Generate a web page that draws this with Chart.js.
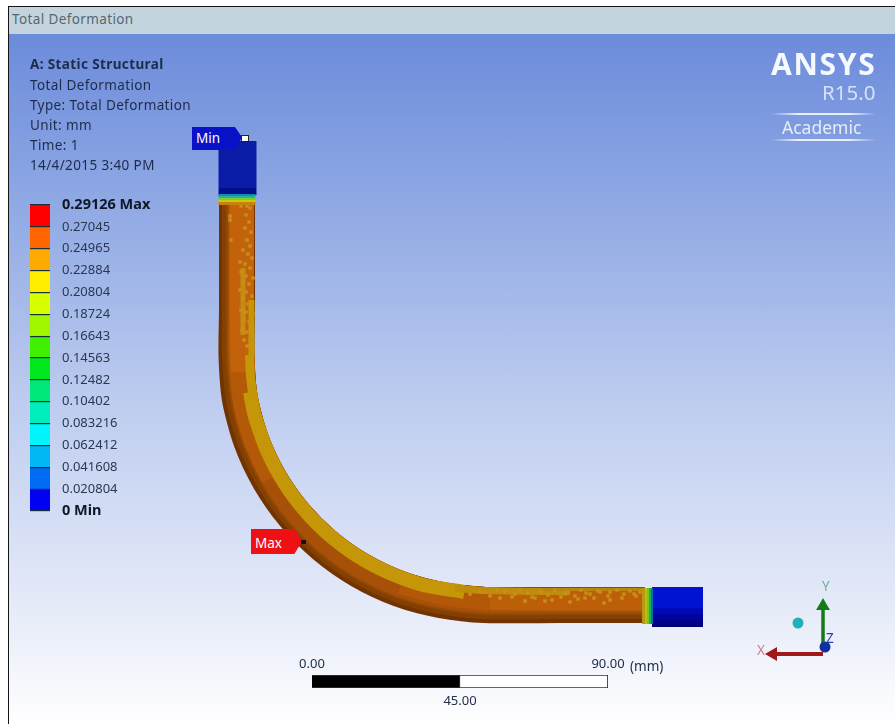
<!DOCTYPE html>
<html><head><meta charset="utf-8">
<script src="https://cdn.jsdelivr.net/npm/chart.js@4/dist/chart.umd.min.js"></script>
<style>
html,body{margin:0;padding:0;background:#fff;overflow:hidden}
#wrap{position:relative;width:895px;height:724px;overflow:hidden;background:#fff;filter:blur(.45px);font-family:"Noto Sans",sans-serif}
#view{position:absolute;left:8px;top:6px;right:-2px;bottom:-2px;border:1.5px solid #151515;box-sizing:border-box;
 background:linear-gradient(#6c8bdb 28px,#8ea8e4 190px,#bccbef 390px,#e3e9f8 590px,#ffffff 718px)}
#bar{position:absolute;left:0;top:0;right:0;height:27px;background:#c4d4de}
canvas{position:absolute}
.t{position:absolute;white-space:nowrap;color:#1d2c48;font-size:13.5px;line-height:18px;letter-spacing:.38px}
.tag{position:absolute;color:#fff;font-size:13.5px;line-height:22px;box-sizing:border-box;padding-left:4px}
.rule{position:absolute;height:2px;background:linear-gradient(90deg,rgba(255,255,255,0),#e8eefb 25%,#e8eefb 75%,rgba(255,255,255,0))}
</style></head><body>
<div id="wrap">
<div id="view"><div id="bar"></div></div>
<div class="t" style="left:12px;top:10px;color:#566770">Total Deformation</div>
<canvas id="main" width="895" height="724" style="left:0;top:0"></canvas>
<canvas id="legend" width="150" height="326" style="left:20px;top:195px"></canvas>
<canvas id="ruler" width="360" height="60" style="left:280px;top:655px"></canvas>

<div class="t" style="left:30px;top:55px;font-weight:700">A: Static Structural</div>
<div class="t" style="left:30px;top:76px">Total Deformation</div>
<div class="t" style="left:30px;top:96px">Type: Total Deformation</div>
<div class="t" style="left:30px;top:116px">Unit: mm</div>
<div class="t" style="left:30px;top:136px">Time: 1</div>
<div class="t" style="left:30px;top:156px">14/4/2015 3:40 PM</div>

<div class="t" style="left:771px;top:44px;font-size:30px;line-height:40px;font-weight:700;color:#f6f9ff;letter-spacing:1.7px">ANSYS</div>
<div class="t" style="left:822px;top:79px;font-size:20.5px;line-height:26px;color:#d6e1f6;letter-spacing:0">R15.0</div>
<div class="rule" style="left:771px;top:113px;width:105px"></div>
<div class="t" style="left:782px;top:116px;font-size:17.5px;line-height:22px;color:#e6edf9;letter-spacing:0">Academic</div>
<div class="rule" style="left:771px;top:139px;width:105px"></div>

<div class="tag" style="left:192px;top:127px;width:50px;height:23px;background:#0a12c8;clip-path:polygon(0 0,86% 0,100% 45%,86% 100%,0 100%)">Min</div>
<div style="position:absolute;left:241px;top:135px;width:6px;height:5px;background:#fff;border:1px solid #222"></div>
<div class="tag" style="left:251px;top:529px;width:51px;height:25px;background:#ee1014;line-height:28px;clip-path:polygon(0 0,85% 0,100% 50%,85% 100%,0 100%)">Max</div>
<div style="position:absolute;left:301px;top:540px;width:5px;height:4px;background:#111"></div>
<div class="t" style="left:630px;top:657px;color:#22304a;letter-spacing:0">(mm)</div>

<div class="t" style="left:822px;top:577px;color:#6fae8e">Y</div>
<div class="t" style="left:757px;top:641px;color:#c9808c">X</div>
<div class="t" style="left:826px;top:629px;color:#2c3cc0">Z</div>
</div>
<script>
/* colour scale */
const legendTicks=[0,0.020804,0.041608,0.062412,0.083216,0.10402,0.12482,0.14563,0.16643,0.18724,0.20804,0.22884,0.24965,0.27045,0.29126];
const legendLabels=["0 Min","0.020804","0.041608","0.062412","0.083216","0.10402","0.12482","0.14563","0.16643","0.18724","0.20804","0.22884","0.24965","0.27045","0.29126 Max"];
const legendColors=["#0000f4","#006cf4","#00b8f4","#00f4fa","#00eebc","#00e87a","#00e81e","#40f000","#a0f800","#d8ff00","#ffee00","#ffaa00","#ff6600","#ff0000"];

/* length ruler, mm */
const rulerBlack=[0,45];
const rulerWhite=[45,90];
const rulerTop=[0,90];
const rulerBottom=[45];

/* pipe outline, drawing units */
const pipeX=[237,237,237,236.5,239.8,251,269.4,294.3,325,360.5,399.8,441.8,485,560,645];
const pipeY=[203,260,310,355,398.2,440.2,479.5,515,545.7,570.6,589,600.2,605,605,605];
const midX=[238,238,238,238,241.8,252.9,271.1,295.8,326.2,361.5,400.5,442.1,485,560,645];
const midY=[203,260,310,355,397.9,439.5,478.5,513.8,544.2,568.9,587.1,598.2,603,603,603];
const bodyX=[240,240,240,240,243.7,254.8,272.8,297.3,327.5,362.5,401.2,442.5,485,560,645];
const bodyY=[203,260,310,355,397.5,438.8,477.5,512.5,542.7,567.2,585.2,596.3,601,601,601];
const warmX=[241,241,241,241,244.5,255,273];
const warmY=[203,270,330,355,397.5,438.8,477.5];
const warmLowX=[401.2,442.5,485,560,645];
const warmLowY=[583,594,599,600,600];
const brightX=[242,242,242,243];
const brightY=[203,270,330,372];
const brightLowX=[490,560,645];
const brightLowY=[600,600,600];
const lightX=[250,255,269.3,290,316.7,348.5,384.4,423.4,464.3];
const lightY=[392,416.6,455.6,491.5,523.3,550,570.7,585,592];
const lightThinX=[249.5,250.3,252.4];
const lightThinY=[355,374,392];
const lightHighX=[251.5,251.5,251.5];
const lightHighY=[300,330,356];
const lightLowX=[455,470,485,530,570];
const lightLowY=[588,589.5,590.5,591.5,591.5];
const lightTopX=[540,580,620,642];
const lightTopY=[589.5,589.5,589.5,589.5];
const streakX=[243,243,243];
const streakY=[268,300,335];
const speckX=[241,247,250,230,230,246,249,245,251,231,247,250,243,248,252,240,245,250,241,246,253,243,249,240,246,252,243,248,241,246,253,244,249,242,247,244,250,247,
 470,480,490,497,505,512,520,528,535,541,548,555,561,568,575,581,590,598,604,610,617,624,630,636,640,545,525,570,585,610,
 515,532,552,565,578,594,608,622,634,500,586,600];
const speckY=[206,206,208,216,220,215,222,228,232,240,240,246,250,254,258,262,264,268,272,276,278,282,284,290,292,296,298,304,310,312,314,320,322,330,332,340,340,346,
 594,592,596,590,592,597,590,593,598,591,595,590,597,592,596,590,594,591,603,592,590,594,591,596,592,601,601,602,598,600,
 594,597,600,594,599,598,596,598,594,598,593,592];

/* blue ends and colour transitions */
const capTopX=[237.5,237.5];
const capTopY=[141,195];
const capTopDarkY=[188,195];
const capEndX=[652,703];
const capEndY1=[607,607];
const capEndY2=[605.5,605.5];
const capEndY3=[603.5,603.5];
const capEndY4=[600.5,600.5];
const capEndY5=[597.5,597.5];
const rimTopX=[237,237,237,237,237,237];
const rimTopY=[194,196.5,198,200,202,205];
const rimTopColors=["#0a8fb0","#18c070","#70d030","#c8c818","#c8820c"];
const rimEndX=[642,645,647,649,651,653];
const rimEndY=[606,606,606,606,606,606];
const rimEndColors=["#b89a12","#b8c018","#70c828","#20b050","#0a70a8"];

/* axis triad */
const triadYX=[823,823];
const triadYY=[651,606];
const triadXX=[823,773];
const triadXY=[654,654];
const ballBlue={x:[825],y:[647]};
const ballTeal={x:[798],y:[623]};

const pts=(xs,ys)=>xs.map((x,i)=>({x,y:ys[i]}));
const line=(xs,ys,color,width,extra)=>Object.assign({data:pts(xs,ys),borderColor:color,borderWidth:width,showLine:true,pointRadius:0,tension:.25,borderCapStyle:'butt',borderJoinStyle:'round'},extra||{});
const dots=(xs,ys,color,radius,style)=>({data:pts(xs,ys),backgroundColor:color,borderColor:color,borderWidth:0,showLine:false,pointRadius:radius,pointStyle:style||'circle'});
const straight={tension:.001};
const seg=cols=>({tension:.001,segment:{borderColor:c=>cols[c.p0DataIndex]}});

const layers=[
 line(capTopX,capTopY,'#0a1ca6',38,straight),
 line(capTopX,capTopDarkY,'#020e8c',37,straight),
 line(pipeX,pipeY,'#723300',36),
 line(midX,midY,'#824003',32),
 line(bodyX,bodyY,'#944805',28),
 line(bodyX,bodyY,'#a65107',24),
 line(warmX,warmY,'#b45908',24),
 line(warmLowX,warmLowY,'#b35808',22),
 line(brightX,brightY,'#c2620a',24),
 line(brightLowX,brightLowY,'#bd5f09',20),
 line(lightX,lightY,'#c49608',14),
 line(lightThinX,lightThinY,'#c49608',9),
 line(lightHighX,lightHighY,'#c49608',6),
 line(lightLowX,lightLowY,'#c08c0c',7),
 line(lightTopX,lightTopY,'#b8860c',3,straight),
 line(streakX,streakY,'#c98a14',5,straight),
 dots(speckX,speckY,'#c6901a',2.4,'rect'),
 line(capEndX,capEndY1,'#000078',40,straight),
 line(capEndX,capEndY2,'#00008c',37,straight),
 line(capEndX,capEndY3,'#00049e',33,straight),
 line(capEndX,capEndY4,'#0008b8',27,straight),
 line(capEndX,capEndY5,'#0012d2',21,straight),
 line(rimTopX,rimTopY,'#18c070',37,seg(rimTopColors)),
 line(rimEndX,rimEndY,'#20b050',36,seg(rimEndColors)),
 line(triadYX,triadYY,'#167a18',3.5,straight),
 line(triadXX,triadXY,'#a01818',4,straight),
 dots([triadYX[1]],[triadYY[1]],'#167a18',8,'triangle'),
 Object.assign(dots([triadXX[1]],[triadXY[1]],'#a01818',8,'triangle'),{pointRotation:-90}),
 dots(ballBlue.x,ballBlue.y,'#1030a0',5.5),
 dots(ballTeal.x,ballTeal.y,'#22b0b8',5.5)
];
layers.forEach((d,i)=>d.order=layers.length-i);

Chart.defaults.animation=false;
Chart.defaults.responsive=false;
Chart.defaults.devicePixelRatio=1;
Chart.defaults.font.family='"Noto Sans",sans-serif';
const quiet={legend:{display:false},tooltip:{enabled:false}};

new Chart(document.getElementById('main'),{
 type:'scatter',
 data:{datasets:layers},
 options:{layout:{padding:0,autoPadding:false},plugins:quiet,events:[],
  scales:{x:{type:'linear',display:false,min:0,max:895},y:{type:'linear',display:false,min:0,max:724,reverse:true}}}
});

new Chart(document.getElementById('legend'),{
 type:'bar',
 data:{labels:['scale'],datasets:legendColors.map((c,i)=>({data:[[legendTicks[i],legendTicks[i+1]]],backgroundColor:c,grouped:false,barPercentage:1,categoryPercentage:1}))},
 options:{layout:{padding:{left:10,top:10,bottom:10,right:0},autoPadding:false},plugins:quiet,events:[],
  scales:{
   x:{display:false,grid:{display:false}},
   y:{position:'right',min:0,max:legendTicks[legendTicks.length-1],
    afterBuildTicks:s=>{s.ticks=legendTicks.map(v=>({value:v}));},
    afterFit:s=>{s.width=120;s.paddingTop=0;s.paddingBottom=0;},
    border:{display:false},
    grid:{color:'#14303a',lineWidth:1.2,drawTicks:false,z:1},
    ticks:{autoSkip:false,padding:12,color:c=>(c.index===0||c.index===14)?'#101828':'#2a3850',
      font:c=>(c.index===0||c.index===14)?{size:14.5,weight:'700'}:{size:13},
      callback:(v,i)=>legendLabels[i]}
   }}}
});

new Chart(document.getElementById('ruler'),{
 type:'bar',
 data:{labels:['length'],datasets:[
  {data:[rulerBlack],backgroundColor:'#000',borderColor:'#333',borderWidth:1,grouped:false,barPercentage:1,categoryPercentage:1},
  {data:[rulerWhite],backgroundColor:'#fff',borderColor:'#333',borderWidth:1.2,grouped:false,barPercentage:1,categoryPercentage:1}]},
 options:{indexAxis:'y',layout:{padding:{left:32,right:32,top:0,bottom:0}},plugins:quiet,events:[],
  scales:{
   y:{display:false},
   x:{position:'bottom',min:0,max:90,afterBuildTicks:s=>{s.ticks=rulerBottom.map(v=>({value:v}));},afterFit:s=>{s.height=27;},
    border:{display:false},grid:{display:false,drawTicks:false},
    ticks:{autoSkip:false,maxRotation:0,padding:5,color:'#22304a',font:{size:13},callback:v=>v.toFixed(2)}},
   x2:{position:'top',min:0,max:90,afterBuildTicks:s=>{s.ticks=rulerTop.map(v=>({value:v}));},afterFit:s=>{s.height=20;},
    border:{display:false},grid:{display:false,drawTicks:false},
    ticks:{autoSkip:false,maxRotation:0,padding:3,color:'#22304a',font:{size:13},callback:v=>v.toFixed(2)}}
  }}
});
</script>
</body></html>
